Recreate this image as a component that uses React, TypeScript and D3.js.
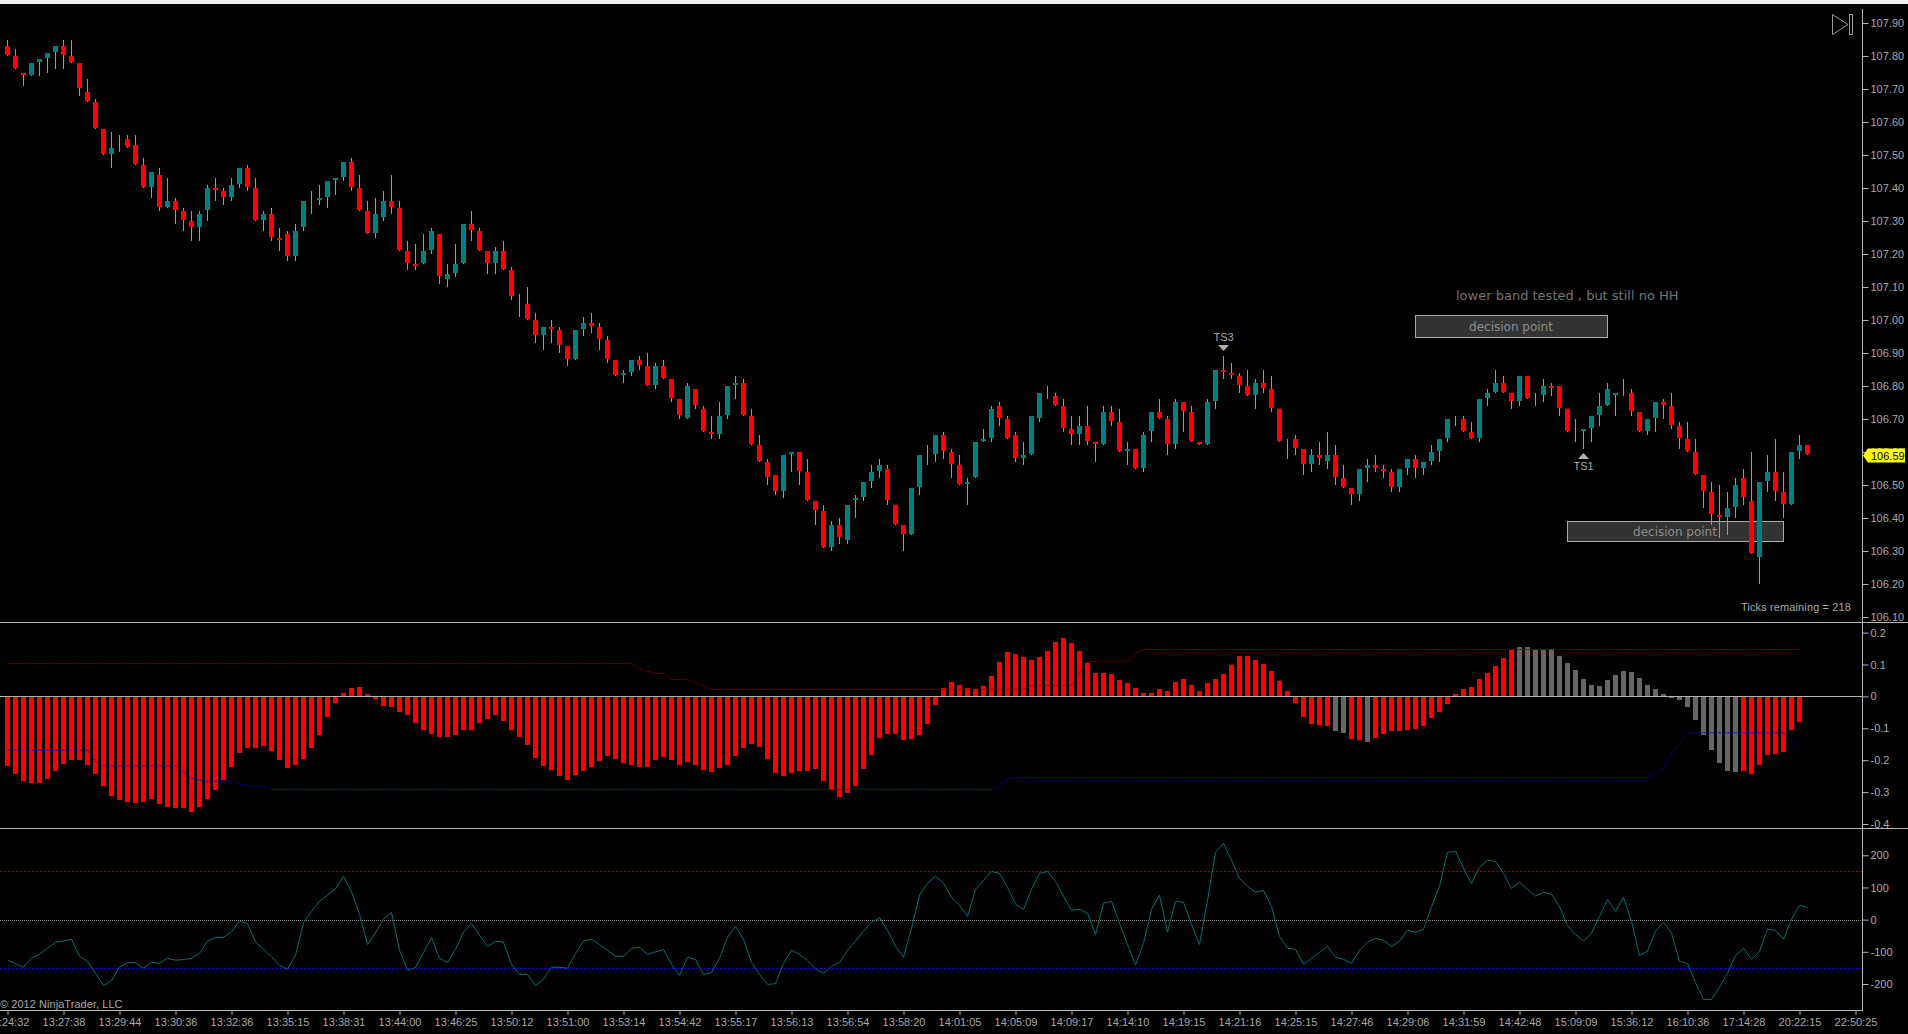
import * as d3 from "d3";
import { useEffect, useRef } from "react";

// price panel, one entry per bar
const highs = [
  107.85,107.82,107.75,107.78,107.79,107.81,107.83,107.85,107.85,107.78,
  107.73,107.67,107.58,107.57,107.56,107.56,107.56,107.49,107.45,107.46,
  107.43,107.37,107.34,107.33,107.33,107.41,107.43,107.40,107.43,107.46,
  107.47,107.43,107.33,107.34,107.28,107.27,107.29,107.36,107.39,107.41,
  107.42,107.43,107.48,107.49,107.44,107.36,107.37,107.39,107.44,107.36,
  107.24,107.23,107.26,107.28,107.26,107.17,107.23,107.29,107.33,107.28,
  107.21,107.22,107.24,107.16,107.08,107.10,107.02,106.98,107.00,106.98,
  106.92,106.97,107.01,107.02,106.99,106.95,106.88,106.85,106.88,106.89,
  106.90,106.87,106.88,106.82,106.76,106.81,106.79,106.74,106.71,106.75,
  106.80,106.83,106.82,106.73,106.65,106.58,106.53,106.59,106.60,106.60,
  106.58,106.45,106.44,106.39,106.40,106.44,106.47,106.51,106.56,106.58,
  106.56,106.44,106.38,106.49,106.59,106.62,106.65,106.66,106.61,106.59,
  106.52,106.63,106.67,106.74,106.75,106.71,106.66,106.63,106.71,106.78,
  106.80,106.78,106.76,106.71,106.71,106.74,106.63,106.74,106.74,106.73,
  106.63,106.61,106.66,106.72,106.76,106.71,106.76,106.75,106.74,106.63,
  106.76,106.85,106.89,106.87,106.84,106.85,106.82,106.85,106.83,106.73,
  106.64,106.65,106.61,106.61,106.63,106.66,106.62,106.56,106.49,106.55,
  106.58,106.59,106.56,106.55,106.55,106.58,106.59,106.57,106.62,106.64,
  106.70,106.71,106.71,106.69,106.76,106.79,106.85,106.83,106.78,106.83,
  106.83,106.78,106.82,106.81,106.80,106.73,106.70,106.67,106.71,106.78,
  106.81,106.78,106.82,106.79,106.72,106.70,106.75,106.76,106.78,106.69,
  106.69,106.64,106.53,106.51,106.50,106.48,106.52,106.55,106.60,106.51,
  106.59,106.64,106.54,106.60,106.65,106.62,
];
const lows = [
  107.80,107.76,107.71,107.74,107.74,107.75,107.76,107.76,107.78,107.68,
  107.66,107.58,107.50,107.46,107.51,107.52,107.47,107.40,107.37,107.33,
  107.34,107.29,107.27,107.24,107.24,107.30,107.36,107.35,107.36,107.40,
  107.39,107.30,107.27,107.24,107.21,107.18,107.18,107.27,107.32,107.35,
  107.34,107.38,107.42,107.39,107.33,107.26,107.25,107.30,107.32,107.21,
  107.15,107.15,107.17,107.20,107.11,107.10,107.13,107.17,107.24,107.21,
  107.14,107.14,107.15,107.06,107.01,107.00,106.93,106.91,106.93,106.90,
  106.86,106.88,106.95,106.96,106.91,106.87,106.83,106.81,106.83,106.85,
  106.80,106.79,106.82,106.75,106.70,106.70,106.73,106.66,106.64,106.64,
  106.70,106.76,106.71,106.62,106.57,106.50,106.47,106.46,106.54,106.50,
  106.45,106.38,106.31,106.30,106.32,106.32,106.40,106.45,106.49,106.52,
  106.44,106.38,106.30,106.35,106.47,106.56,106.57,106.58,106.52,106.50,
  106.44,106.52,106.63,106.63,106.68,106.64,106.57,106.56,106.59,106.69,
  106.76,106.74,106.66,106.62,106.62,106.62,106.57,106.62,106.68,106.60,
  106.56,106.55,106.54,106.63,106.70,106.59,106.61,106.66,106.63,106.62,
  106.62,106.73,106.82,106.82,106.78,106.77,106.73,106.78,106.72,106.63,
  106.58,106.59,106.53,106.54,106.56,106.55,106.50,106.49,106.44,106.45,
  106.51,106.54,106.52,106.48,106.48,106.53,106.52,106.53,106.56,106.57,
  106.63,106.68,106.66,106.64,106.63,106.74,106.78,106.78,106.73,106.74,
  106.76,106.74,106.75,106.77,106.71,106.66,106.63,106.61,106.63,106.68,
  106.74,106.71,106.77,106.71,106.66,106.65,106.66,106.70,106.67,106.61,
  106.60,106.53,106.43,106.38,106.34,106.35,106.40,106.44,106.29,106.20,
  106.48,106.45,106.40,106.44,106.58,106.59,
];
const opens = [
  107.83,107.80,107.75,107.74,107.78,107.79,107.81,107.83,107.80,107.78,
  107.69,107.66,107.58,107.50,107.53,107.55,107.53,107.47,107.40,107.44,
  107.34,107.36,107.33,107.30,107.28,107.33,107.40,107.39,107.37,107.41,
  107.46,107.40,107.30,107.32,107.25,107.26,107.19,107.28,107.35,107.36,
  107.37,107.42,107.43,107.48,107.40,107.33,107.26,107.31,107.36,107.34,
  107.21,107.17,107.17,107.21,107.26,107.12,107.14,107.17,107.29,107.27,
  107.21,107.17,107.21,107.15,107.04,107.05,107.00,106.95,106.98,106.97,
  106.92,106.88,106.97,106.99,106.98,106.94,106.88,106.83,106.84,106.88,
  106.86,106.80,106.86,106.82,106.76,106.70,106.79,106.73,106.66,106.65,
  106.71,106.80,106.81,106.71,106.62,106.57,106.53,106.48,106.59,106.60,
  106.54,106.45,106.42,106.31,106.38,106.33,106.45,106.46,106.51,106.54,
  106.55,106.44,106.38,106.35,106.49,106.59,106.59,106.65,106.60,106.56,
  106.50,106.52,106.63,106.64,106.74,106.70,106.65,106.58,106.59,106.70,
  106.78,106.77,106.74,106.67,106.65,106.68,106.63,106.62,106.72,106.69,
  106.60,106.61,106.55,106.66,106.72,106.70,106.62,106.75,106.72,106.63,
  106.62,106.75,106.85,106.84,106.83,106.80,106.77,106.81,106.79,106.73,
  106.61,106.64,106.61,106.56,106.59,106.57,106.59,106.52,106.49,106.47,
  106.55,106.56,106.55,106.54,106.49,106.55,106.58,106.55,106.57,106.60,
  106.64,106.70,106.70,106.66,106.64,106.76,106.78,106.81,106.78,106.75,
  106.83,106.76,106.77,106.80,106.80,106.73,106.66,106.66,106.67,106.71,
  106.74,106.77,106.78,106.78,106.72,106.66,106.70,106.75,106.74,106.68,
  106.64,106.60,106.53,106.48,106.41,106.40,106.43,106.52,106.45,106.28,
  106.51,106.54,106.48,106.44,106.60,106.62,
];
const closes = [
  107.80,107.76,107.74,107.78,107.79,107.81,107.83,107.80,107.78,107.70,
  107.66,107.58,107.50,107.52,107.53,107.52,107.47,107.40,107.45,107.34,
  107.36,107.33,107.30,107.28,107.32,107.40,107.39,107.37,107.41,107.46,
  107.40,107.30,107.32,107.25,107.24,107.19,107.27,107.36,107.35,107.37,
  107.42,107.43,107.48,107.40,107.33,107.26,107.32,107.36,107.34,107.21,
  107.17,107.16,107.21,107.27,107.13,107.14,107.17,107.29,107.27,107.21,
  107.17,107.21,107.15,107.07,107.04,107.00,106.95,106.98,106.97,106.92,
  106.88,106.97,106.99,106.98,106.94,106.88,106.83,106.84,106.88,106.86,
  106.80,106.86,106.82,106.76,106.71,106.80,106.74,106.66,106.65,106.71,
  106.80,106.81,106.71,106.62,106.57,106.52,106.48,106.59,106.60,106.54,
  106.45,106.42,106.31,106.38,106.34,106.44,106.46,106.51,106.54,106.56,
  106.45,106.38,106.35,106.49,106.59,106.59,106.65,106.60,106.56,106.50,
  106.51,106.63,106.64,106.73,106.70,106.64,106.58,106.59,106.71,106.78,
  106.78,106.74,106.67,106.65,106.68,106.63,106.62,106.72,106.69,106.60,
  106.61,106.55,106.65,106.72,106.70,106.62,106.75,106.72,106.63,106.62,
  106.75,106.85,106.84,106.83,106.80,106.77,106.81,106.79,106.73,106.63,
  106.61,106.61,106.56,106.59,106.58,106.59,106.52,106.49,106.47,106.55,
  106.56,106.55,106.54,106.49,106.55,106.58,106.55,106.57,106.60,106.64,
  106.70,106.70,106.66,106.64,106.76,106.78,106.81,106.78,106.75,106.83,
  106.76,106.76,106.80,106.79,106.73,106.66,106.66,106.67,106.71,106.74,
  106.79,106.78,106.78,106.72,106.66,106.70,106.75,106.74,106.68,106.64,
  106.60,106.53,106.48,106.41,106.40,106.43,106.50,106.46,106.29,106.51,
  106.54,106.48,106.44,106.60,106.62,106.59,
];

// histogram panel
const histValues = [
  -0.218,-0.243,-0.265,-0.272,-0.272,-0.259,-0.234,-0.212,-0.200,-0.200,
  -0.215,-0.243,-0.281,-0.312,-0.325,-0.331,-0.334,-0.331,-0.322,-0.338,
  -0.347,-0.350,-0.350,-0.363,-0.347,-0.322,-0.294,-0.262,-0.222,-0.178,
  -0.162,-0.162,-0.156,-0.171,-0.200,-0.225,-0.215,-0.196,-0.162,-0.121,
  -0.065,-0.021,0.010,0.026,0.029,0.007,-0.008,-0.030,-0.033,-0.049,
  -0.059,-0.084,-0.106,-0.118,-0.127,-0.127,-0.121,-0.106,-0.106,-0.084,
  -0.071,-0.059,-0.077,-0.106,-0.127,-0.153,-0.193,-0.218,-0.231,-0.250,
  -0.262,-0.247,-0.234,-0.222,-0.203,-0.187,-0.196,-0.209,-0.215,-0.222,
  -0.222,-0.200,-0.190,-0.200,-0.215,-0.206,-0.215,-0.231,-0.237,-0.225,
  -0.215,-0.187,-0.162,-0.149,-0.159,-0.196,-0.240,-0.250,-0.240,-0.234,
  -0.234,-0.228,-0.265,-0.294,-0.316,-0.303,-0.281,-0.228,-0.184,-0.131,
  -0.118,-0.118,-0.137,-0.134,-0.121,-0.087,-0.027,0.026,0.045,0.036,
  0.026,0.023,0.032,0.064,0.108,0.139,0.133,0.123,0.114,0.123,
  0.142,0.170,0.183,0.167,0.142,0.105,0.073,0.073,0.070,0.051,
  0.042,0.026,0.010,0.010,0.023,0.017,0.045,0.054,0.036,0.017,
  0.042,0.054,0.070,0.098,0.126,0.126,0.114,0.101,0.079,0.048,
  0.017,-0.021,-0.065,-0.087,-0.090,-0.093,-0.109,-0.115,-0.134,-0.137,
  -0.143,-0.131,-0.118,-0.109,-0.109,-0.106,-0.102,-0.093,-0.068,-0.049,
  -0.024,0.007,0.023,0.029,0.054,0.073,0.095,0.120,0.145,0.155,
  0.155,0.145,0.145,0.148,0.126,0.105,0.083,0.054,0.036,0.032,
  0.051,0.067,0.079,0.076,0.057,0.036,0.023,0.007,-0.004,-0.011,
  -0.033,-0.074,-0.121,-0.168,-0.209,-0.234,-0.237,-0.234,-0.243,-0.215,
  -0.184,-0.181,-0.175,-0.106,-0.080,
];
const histGrayBars = [
  166,167,170,189,190,191,192,193,194,195,196,197,198,199,200,201,202,203,204,
  205,206,207,208,209,210,211,212,213,214,215,216,
];
const upperBandBars = [0,78,79,80,81,82,83,85,86,87,88,127,128,133,134,135,140,141,142,224];
const upperBandValues = [0.103,0.103,0.088,0.079,0.072,0.072,0.053,0.053,0.043,0.032,0.022,0.022,0.034,0.034,0.072,0.110,0.110,0.135,0.147,0.147];
const lowerBandBars = [0,10,11,12,21,22,23,25,28,29,30,32,33,123,124,125,126,205,207,208,210,222,224];
const lowerBandValues = [-0.169,-0.169,-0.205,-0.218,-0.218,-0.237,-0.258,-0.266,-0.266,-0.273,-0.281,-0.281,-0.292,-0.292,-0.280,-0.260,-0.254,-0.254,-0.226,-0.179,-0.114,-0.114,-0.166];

// oscillator panel
const cciValues = [
  -125,-137,-148,-119,-107,-89,-70,-67,-61,-114,
  -130,-167,-205,-189,-148,-133,-133,-151,-133,-136,
  -120,-126,-124,-120,-105,-67,-55,-55,-38,-5,
  -12,-70,-92,-115,-142,-154,-110,-9,25,57,
  76,96,135,87,17,-77,-40,2,22,-95,
  -157,-149,-102,-56,-120,-133,-92,-38,-12,-48,
  -83,-67,-70,-139,-170,-170,-205,-185,-148,-148,
  -151,-105,-67,-61,-77,-95,-114,-114,-89,-86,
  -108,-100,-93,-139,-173,-117,-124,-170,-164,-120,
  -55,-21,-61,-133,-170,-201,-199,-136,-95,-108,
  -126,-154,-167,-145,-133,-95,-67,-36,-8,6,
  -33,-83,-117,-27,76,113,135,113,69,45,
  10,94,122,150,144,100,48,32,94,144,
  150,119,73,29,32,20,-46,51,57,-11,
  -77,-141,-74,32,76,-39,57,54,-15,-77,
  60,209,237,184,128,104,85,91,41,-52,
  -89,-92,-139,-120,-102,-83,-117,-123,-136,-95,
  -70,-58,-64,-83,-67,-33,-39,-30,40,104,
  209,213,160,113,163,185,181,144,97,116,
  94,73,85,79,41,-18,-46,-67,-42,10,
  63,26,69,-5,-111,-98,-36,-8,-42,-130,
  -136,-195,-248,-248,-210,-167,-111,-89,-123,-99,
  -30,-33,-61,1,45,38,
];

// axes
const priceTicks = [107.9,107.8,107.7,107.6,107.5,107.4,107.3,107.2,107.1,107.0,106.9,106.8,106.7,106.6,106.5,106.4,106.3,106.2,106.1];
const histTicks = [0.2,0.1,0,-0.1,-0.2,-0.3,-0.4];
const cciTicks = [200,100,0,-100,-200];
const cciBands = [150,-150];
const timeLabels = [
  "13:24:32","13:27:38","13:29:44","13:30:36","13:32:36","13:35:15","13:38:31","13:44:00","13:46:25",
  "13:50:12","13:51:00","13:53:14","13:54:42","13:55:17","13:56:13","13:56:54","13:58:20","14:01:05",
  "14:05:09","14:09:17","14:14:10","14:19:15","14:21:16","14:25:15","14:27:46","14:29:06","14:31:59",
  "14:42:48","15:09:09","15:36:12","16:10:36","17:14:28","20:22:15","22:50:25",
];
const barsPerLabel = 7;
const lastPrice = 106.59;

const WIDTH = 1908;
const HEIGHT = 1034;
const AXIS_X = 1862.5;
const FONT = "'Liberation Sans', Arial, sans-serif";
const NOTE_FONT = "'DejaVu Sans', Verdana, sans-serif";
const TEXT_GREY = "#a8a8a8";
const LINE_GREY = "#b4b4b4";

export default function App() {
  const svgRef = useRef<SVGSVGElement | null>(null);

  useEffect(() => {
    document.body.style.margin = "0";
    document.body.style.background = "#000";

    const svg = d3.select(svgRef.current);
    svg.selectAll("*").remove();

    const x = d3.scaleLinear().domain([0, 231]).range([7.5, 1855.5]);
    const yPrice = d3.scaleLinear().domain([106.1, 107.9]).range([617, 23]);
    const yHist = d3.scaleLinear().domain([-0.4, 0.2]).range([824, 632.6]);
    const yCci = d3.scaleLinear().domain([-200, 200]).range([984, 855.3]);

    svg.append("rect").attr("width", WIDTH).attr("height", HEIGHT).attr("fill", "#000");
    svg.append("rect").attr("width", WIDTH).attr("height", 4).attr("fill", "#f0f0f0");

    // Drawn objects sit under the bars
    const notes = svg.append("g");
    const boxes = [
      { x0: 1415.5, x1: 1607.5, y0: 315.5, y1: 337.5, tx: 1511 },
      { x0: 1567.5, x1: 1783.5, y0: 521.5, y1: 541.5, tx: 1675 },
    ];
    boxes.forEach((b) => {
      notes
        .append("rect")
        .attr("x", b.x0)
        .attr("y", b.y0)
        .attr("width", b.x1 - b.x0)
        .attr("height", b.y1 - b.y0)
        .attr("fill", "#333")
        .attr("stroke", "#aaa");
      notes
        .append("text")
        .attr("x", b.tx)
        .attr("y", (b.y0 + b.y1) / 2 + 4.5)
        .attr("text-anchor", "middle")
        .attr("font-family", NOTE_FONT)
        .attr("font-size", 12)
        .attr("fill", "#8c8c8c")
        .text("decision point");
    });
    notes
      .append("text")
      .attr("x", 1456)
      .attr("y", 299.5)
      .attr("font-family", NOTE_FONT)
      .attr("font-size", 13)
      .attr("fill", "#747474")
      .text("lower band tested , but still no HH");

    // Candles
    const candles = svg.append("g").attr("shape-rendering", "crispEdges");
    candles
      .selectAll("line")
      .data(highs.map((_, i) => i))
      .join("line")
      .attr("x1", (i) => x(i))
      .attr("x2", (i) => x(i))
      .attr("y1", (i) => Math.round(yPrice(highs[i])))
      .attr("y2", (i) => Math.round(yPrice(lows[i])))
      .attr("stroke", "#66b2a2");
    candles
      .selectAll("rect")
      .data(highs.map((_, i) => i).filter((i) => opens[i] !== closes[i]))
      .join("rect")
      .attr("x", (i) => x(i) - 2.5)
      .attr("width", 5)
      .attr("y", (i) => Math.round(yPrice(Math.max(opens[i], closes[i]))))
      .attr("height", (i) => Math.round(yPrice(Math.min(opens[i], closes[i]))) - Math.round(yPrice(Math.max(opens[i], closes[i]))) - 1)
      .attr("fill", (i) => (closes[i] < opens[i] ? "#ff0000" : "#008080"));

    // Histogram
    const zeroY = Math.round(yHist(0));
    svg
      .append("g")
      .attr("shape-rendering", "crispEdges")
      .selectAll("rect")
      .data(histValues)
      .join("rect")
      .attr("x", (_, i) => x(i) - 2.5)
      .attr("width", 5)
      .attr("y", (d) => Math.min(Math.round(yHist(d)), zeroY))
      .attr("height", (d) => Math.abs(Math.round(yHist(d)) - zeroY))
      .attr("fill", (_, i) => (histGrayBars.includes(i) ? "#666666" : "#ff0000"));

    const bandLine = d3
      .line<number>()
      .x((d) => x(d))
      .y((d, i, all) => yHist(all === upperBandBars ? upperBandValues[i] : lowerBandValues[i]));
    svg
      .append("path")
      .attr("d", bandLine(upperBandBars))
      .attr("fill", "none")
      .attr("stroke", "#7a0000")
      .attr("stroke-dasharray", "2 1");
    svg
      .append("path")
      .attr("d", bandLine(lowerBandBars))
      .attr("fill", "none")
      .attr("stroke", "#0000a8")
      .attr("stroke-dasharray", "2 1");

    // Oscillator
    cciBands.forEach((v) => {
      svg
        .append("line")
        .attr("x1", 0)
        .attr("x2", AXIS_X)
        .attr("y1", Math.round(yCci(v)) + 0.5)
        .attr("y2", Math.round(yCci(v)) + 0.5)
        .attr("stroke", v > 0 ? "#a00000" : "#0000ff")
        .attr("stroke-dasharray", "2 2");
    });
    svg
      .append("line")
      .attr("x1", 0)
      .attr("x2", AXIS_X)
      .attr("y1", Math.round(yCci(0)) + 0.5)
      .attr("y2", Math.round(yCci(0)) + 0.5)
      .attr("stroke", "#8a8a8a")
      .attr("stroke-dasharray", "1 1");
    const cciLine = d3
      .line<number>()
      .x((_, i) => x(i))
      .y((d) => yCci(d));
    svg
      .append("path")
      .attr("d", cciLine(cciValues))
      .attr("fill", "none")
      .attr("stroke", "#007070")
      .attr("stroke-width", 1);

    // Panel frames
    const frame = svg.append("g").attr("stroke", LINE_GREY).attr("shape-rendering", "crispEdges");
    frame.append("line").attr("x1", 0).attr("x2", WIDTH).attr("y1", 622.5).attr("y2", 622.5);
    frame.append("line").attr("x1", 0).attr("x2", WIDTH).attr("y1", 828.5).attr("y2", 828.5);
    frame.append("line").attr("x1", 0).attr("x2", AXIS_X).attr("y1", zeroY + 0.5).attr("y2", zeroY + 0.5);
    frame.append("line").attr("x1", 0).attr("x2", AXIS_X).attr("y1", 1010.5).attr("y2", 1010.5);
    frame.append("line").attr("x1", AXIS_X).attr("x2", AXIS_X).attr("y1", 9).attr("y2", 1011);

    // Axes
    const styleAxis = (g: d3.Selection<SVGGElement, unknown, null, undefined>) => {
      g.select(".domain").remove();
      g.selectAll("line").attr("stroke", LINE_GREY);
      g.selectAll("text").attr("fill", TEXT_GREY);
      g.attr("font-family", FONT).attr("font-size", 11);
    };
    const addRightAxis = (scale: d3.ScaleLinear<number, number>, ticks: number[], fmt: (d: number) => string) => {
      svg
        .append("g")
        .attr("transform", `translate(${AXIS_X},0)`)
        .call(d3.axisRight(scale).tickValues(ticks).tickSize(6).tickPadding(2).tickFormat((d) => fmt(+d)))
        .call(styleAxis as any);
    };
    addRightAxis(yPrice, priceTicks, (d) => d.toFixed(2));
    addRightAxis(yHist, histTicks, (d) => String(d));
    addRightAxis(yCci, cciTicks, (d) => String(d));
    svg
      .append("g")
      .attr("transform", "translate(0,1010)")
      .call(
        d3
          .axisBottom(x)
          .tickValues(timeLabels.map((_, k) => k * barsPerLabel))
          .tickSize(5)
          .tickPadding(3)
          .tickFormat((d) => timeLabels[+d / barsPerLabel])
      )
      .call(styleAxis as any);

    // Last price tag
    const tagY = Math.round(yPrice(lastPrice)) + 0.5;
    svg
      .append("path")
      .attr("d", `M1863,${tagY} L1868,${tagY - 7} H1905 V${tagY + 7} H1868 Z`)
      .attr("fill", "#ffff00");
    svg
      .append("text")
      .attr("x", 1871)
      .attr("y", tagY + 4)
      .attr("font-family", FONT)
      .attr("font-size", 11)
      .attr("fill", "#000")
      .text(lastPrice.toFixed(2));

    // Trade signal markers
    const triangle = (tx: number, baseY: number, tipY: number) =>
      svg
        .append("path")
        .attr("d", `M${tx - 5.5},${baseY} L${tx + 5.5},${baseY} L${tx},${tipY} Z`)
        .attr("fill", "#b0b0b0");
    triangle(x(152), 345, 351);
    triangle(x(197), 459, 453);
    const label = (tx: number, ty: number, text: string, anchor: string) =>
      svg
        .append("text")
        .attr("x", tx)
        .attr("y", ty)
        .attr("text-anchor", anchor)
        .attr("font-family", FONT)
        .attr("font-size", 11)
        .attr("fill", TEXT_GREY)
        .text(text);
    label(x(152), 341, "TS3", "middle");
    label(x(197), 470, "TS1", "middle");
    label(1851, 611, "Ticks remaining = 218", "end").attr("letter-spacing", 0.12);
    label(0, 1008, "© 2012 NinjaTrader, LLC", "start").attr("letter-spacing", 0.05);

    // Scroll to end icon
    svg
      .append("path")
      .attr("d", "M1832.5,14.5 L1848,24.5 L1832.5,34.5 Z")
      .attr("fill", "none")
      .attr("stroke", "#999");
    svg
      .append("rect")
      .attr("x", 1849.5)
      .attr("y", 14.5)
      .attr("width", 3)
      .attr("height", 20)
      .attr("fill", "none")
      .attr("stroke", "#999");
  }, []);

  return (
    <svg
      ref={svgRef}
      width={WIDTH}
      height={HEIGHT}
      style={{ position: "absolute", left: 0, top: 0, display: "block" }}
    />
  );
}
